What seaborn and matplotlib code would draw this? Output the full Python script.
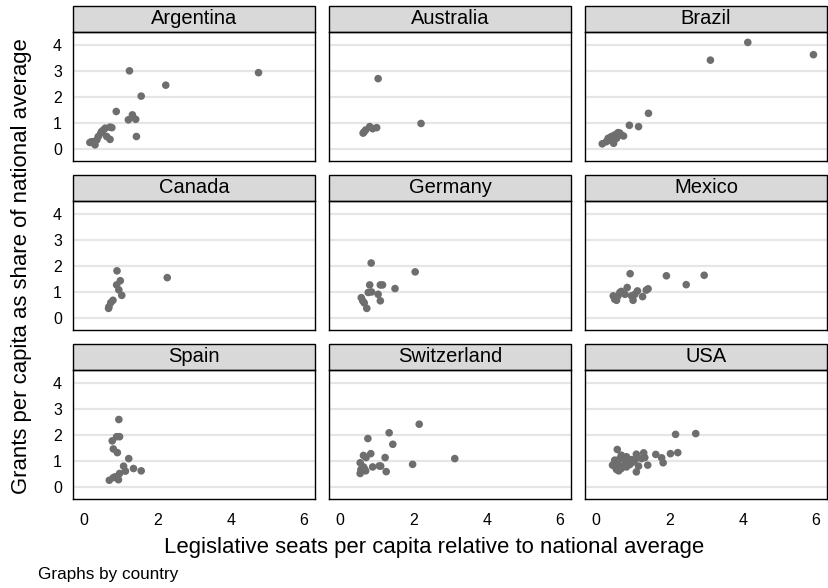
import pandas as pd
import matplotlib
matplotlib.use("Agg")
import matplotlib.pyplot as plt
import seaborn as sns
from matplotlib.patches import Rectangle

# data
countries = ["Argentina", "Australia", "Brazil", "Canada", "Germany",
             "Mexico", "Spain", "Switzerland", "USA"]

argentina_x = [1.24, 4.76, 2.23, 1.56, 0.88, 1.32, 1.21, 1.41, 1.43, 0.71, 0.58, 0.53,
               0.46, 0.39, 0.71, 0.62, 0.21, 0.30, 0.26, 0.35, 0.16, 0.48, 0.76]
argentina_y = [3.01, 2.94, 2.46, 2.04, 1.45, 1.32, 1.13, 1.15, 0.49, 0.85, 0.81, 0.74,
               0.62, 0.49, 0.38, 0.49, 0.29, 0.17, 0.29, 0.36, 0.26, 0.68, 0.83]
australia_x = [1.04, 2.21, 1.00, 0.89, 0.81, 0.70, 0.63, 0.66]
australia_y = [2.71, 0.99, 0.83, 0.79, 0.87, 0.74, 0.62, 0.67]
brazil_x = [4.14, 5.93, 3.12, 1.43, 0.91, 1.16, 0.60, 0.51, 0.42, 0.33, 0.17, 0.48,
            0.75, 0.65, 0.37, 0.28, 0.56, 0.68]
brazil_y = [4.10, 3.63, 3.42, 1.38, 0.92, 0.87, 0.64, 0.55, 0.49, 0.42, 0.21, 0.23,
            0.51, 0.62, 0.36, 0.29, 0.42, 0.55]
canada_x = [0.90, 2.27, 0.99, 0.89, 0.95, 1.03, 0.79, 0.73, 0.68, 0.67]
canada_y = [1.82, 1.56, 1.44, 1.28, 1.09, 0.88, 0.69, 0.60, 0.44, 0.38]
germany_x = [0.85, 2.05, 0.81, 1.10, 1.16, 1.50, 0.77, 0.86, 1.04, 0.58, 0.62, 0.66,
             1.10, 0.73]
germany_y = [2.12, 1.78, 1.28, 1.28, 1.28, 1.14, 0.99, 1.01, 0.92, 0.79, 0.67, 0.59,
             0.67, 0.38]
mexico_x = [0.93, 1.92, 2.95, 2.46, 0.85, 1.42, 1.37, 1.13, 1.27, 1.01, 0.69, 0.47,
            0.51, 0.60, 0.79, 0.97, 0.65, 0.56, 1.06]
mexico_y = [1.71, 1.63, 1.65, 1.29, 1.18, 1.13, 1.08, 1.05, 0.83, 0.69, 1.03, 0.86,
            0.73, 0.86, 0.92, 0.86, 0.99, 0.69, 0.92]
spain_x = [0.95, 0.89, 0.97, 0.77, 0.80, 0.91, 1.22, 1.08, 1.35, 1.56, 1.13, 0.97,
           0.85, 0.94, 0.69, 0.80]
spain_y = [2.60, 1.94, 1.94, 1.78, 1.47, 1.33, 1.10, 0.81, 0.72, 0.63, 0.62, 0.53,
           0.40, 0.29, 0.27, 0.37]
switzerland_x = [2.16, 1.34, 0.76, 1.44, 0.84, 0.64, 0.71, 1.23, 3.13, 1.98, 0.55,
                 0.89, 1.07, 1.11, 0.64, 0.57, 0.70, 1.26, 0.55, 0.66]
switzerland_y = [2.42, 2.09, 1.87, 1.65, 1.29, 1.22, 1.14, 1.14, 1.10, 0.88, 0.94,
                 0.78, 0.82, 0.81, 0.78, 0.68, 0.63, 0.60, 0.53, 0.72]
usa_x = [2.72, 2.17, 0.58, 2.23, 2.03, 1.63, 1.79, 1.83, 1.30, 1.10, 1.33, 1.41, 1.16,
         1.10, 0.69, 0.51, 0.60, 0.56, 0.62, 0.79, 0.88, 0.97, 0.92, 0.74, 0.83, 1.01,
         0.65, 0.83, 0.53, 0.69, 1.06, 1.24, 0.45]
usa_y = [2.06, 2.03, 1.45, 1.33, 1.29, 1.26, 1.13, 0.94, 1.32, 1.27, 1.14, 0.85, 0.81,
         0.59, 1.23, 1.04, 0.91, 0.68, 0.63, 1.04, 0.97, 1.06, 0.87, 0.81, 0.78, 0.97,
         1.10, 1.17, 0.78, 0.72, 1.04, 1.10, 0.85]

xs = [argentina_x, australia_x, brazil_x, canada_x, germany_x,
      mexico_x, spain_x, switzerland_x, usa_x]
ys = [argentina_y, australia_y, brazil_y, canada_y, germany_y,
      mexico_y, spain_y, switzerland_y, usa_y]

frames = []
for c, x, y in zip(countries, xs, ys):
    frames.append(pd.DataFrame({"country": c, "seats": x, "grants": y}))
df = pd.concat(frames, ignore_index=True)

sns.set_style("white", {"text.color": "black", "xtick.color": "black",
                        "ytick.color": "black", "axes.labelcolor": "black"})
plt.rcParams['font.family'] = ['Liberation Sans', 'DejaVu Sans']

g = sns.FacetGrid(df, col="country", col_wrap=3, col_order=countries,
                  sharex=True, sharey=True, height=2, aspect=1.3)
g.map_dataframe(sns.scatterplot, x="seats", y="grants", color="#6e6e6e",
                s=30, edgecolor="none")
fig = g.figure
fig.set_size_inches(8.29, 5.88)
fig.subplots_adjust(left=73/829, right=827/829, top=1-32/588, bottom=1-499/588,
                    wspace=0.058, hspace=0.31)

g.set_titles("")
g.set_axis_labels("", "")
for i, ax in enumerate(g.axes.flat):
    ax.set_xlim(-0.3, 6.3)
    ax.set_ylim(-0.45, 4.5)
    ax.set_xticks([0, 2, 4, 6])
    ax.set_yticks([0, 1, 2, 3, 4])
    for v in [0, 1, 2, 3, 4]:
        ax.axhline(v, color="#e6e6e6", lw=1.6, zorder=0)
    for s in ax.spines.values():
        s.set_visible(True)
        s.set_color("black")
        s.set_linewidth(1.0)
    left = i % 3 == 0
    bottom = i >= 6
    ax.tick_params(axis="y", length=5 if left else 0, width=1, color="black",
                   labelcolor="black", labelsize=11.5, labelleft=left, pad=3)
    ax.tick_params(axis="x", length=5 if bottom else 0, width=1, color="black",
                   labelcolor="black", labelsize=11.5, labelbottom=bottom, pad=5)
    # strip header
    ax.add_patch(Rectangle((0, 1), 1, 26/129, transform=ax.transAxes,
                           facecolor="#d9d9d9", edgecolor="black", lw=1.0,
                           clip_on=False))
    ax.text(0.5, 1 + 13/129, countries[i], transform=ax.transAxes,
            ha="center", va="center", fontsize=14.5, color="black")

fig.text(434/829, 1 - 548/588, "Legislative seats per capita relative to national average",
         ha="center", va="center", fontsize=15.9, color="black")
fig.text(22/829, 1 - 266/588, "Grants per capita as share of national average",
         ha="center", va="center", rotation=90, fontsize=15.9, color="black")
fig.text(38/829, 1 - 574/588, "Graphs by country", ha="left", va="center",
         fontsize=12.3, color="black")

fig.savefig("out.png", dpi=100)
